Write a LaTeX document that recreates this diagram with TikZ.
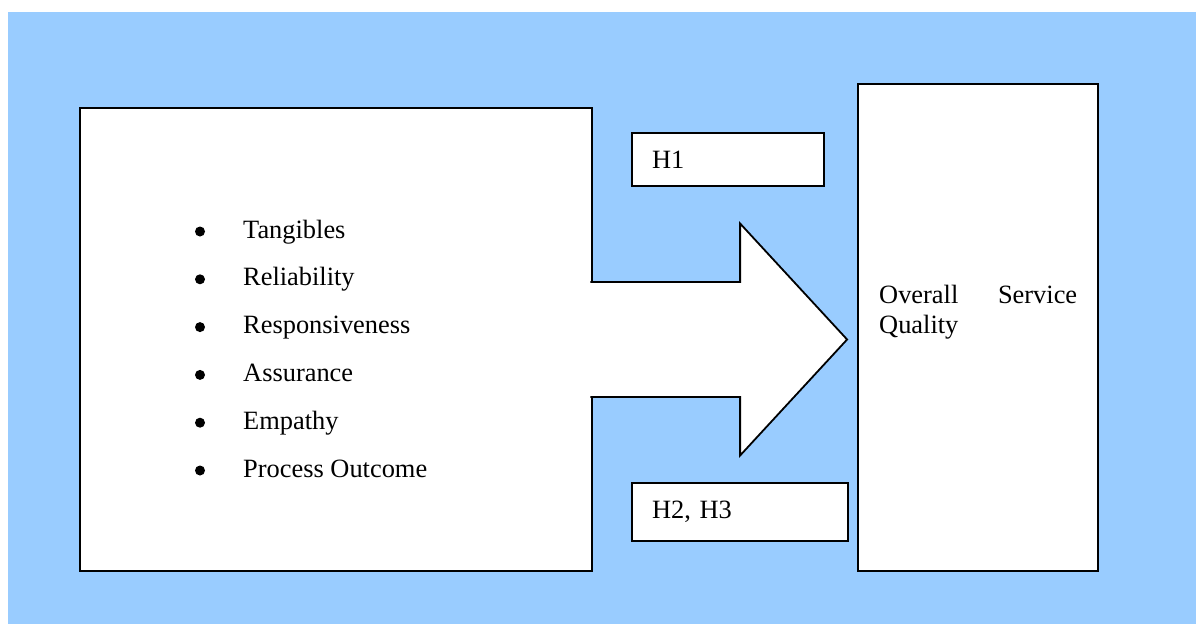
\documentclass[tikz,border=0pt]{standalone}
\usepackage{fontspec}
\setmainfont{Liberation Serif}
\usetikzlibrary{calc,positioning}
\definecolor{skyblue}{HTML}{99CCFF}
\tikzset{
box/.style={draw, fill=white, line width=1.8pt, inner sep=0pt}, % white boxes with black border
label text/.style={font=\fontsize{26.4}{30}\selectfont, inner sep=0pt},
hyp box/.style={box, label text, align=left, inner xsep=20pt, minimum height=#1},
dot/.style={circle, fill=black, inner sep=0pt, minimum size=10pt},
arrow body/.style={fill=white, draw, line width=1.8pt},
}

\begin{document}
\begin{tikzpicture}[x=1pt, y=-1pt]
   \useasboundingbox (0,0) rectangle (1196,624);
   \fill[white] (0,0) rectangle (1196,624);
   \fill[skyblue] (8,12) rectangle (1196,624);

   \node[box, minimum width=512, minimum height=463] (f_box) at (336,339.5) {};
   \node[box, minimum width=240, minimum height=487] (q_box) at (978,327.5) {};
   \node[hyp box=53, text width=152] (h_1) at (728,159.5) {H1};
   \node[hyp box=58, text width=176] (h_2) at (740,512) {H2, H3};

   % list of dimensions
   \foreach \factor [count=\i from 0] in {Tangibles, Reliability, Responsiveness, Assurance, Empathy, Process Outcome}
   {
      \node[dot] (b_\i) at (200,231.5+47.8*\i) {};
      \node[label text, anchor=base west] (t_\i) at (243,238+47.8*\i) {\factor};
   }

   \node[label text, text width=198, align=left, anchor=base west] (q_text) at (879,303) {Overall\hfill Service\\Quality};

   % big arrow from the dimensions to the overall quality
   \coordinate (tip) at ($(f_box.east -| q_box.west)+(-10,0)$);
   \draw[arrow body] ($(f_box.east)+(-2.6,-57.5)$) -| ($(tip)+(-107,-116)$) -- (tip)
      -- ($(tip)+(-107,116)$) |- ($(f_box.east)+(-2.6,57.5)$);
\end{tikzpicture}
\end{document}
